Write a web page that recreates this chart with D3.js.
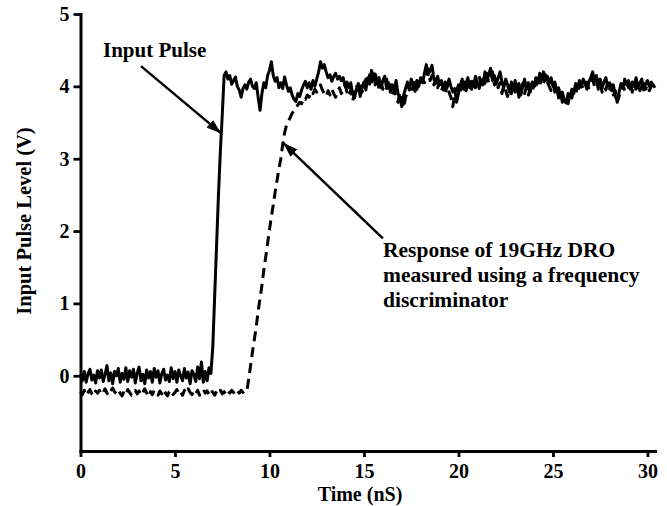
<!DOCTYPE html>
<html>
<head>
  <meta charset="utf-8">
  <title>Input Pulse vs DRO response</title>
  <script src="https://d3js.org/d3.v7.min.js"></script>
  <style>
    body { margin: 0; background: #fff; }
    svg text { font-family: "Liberation Serif", "Times New Roman", serif; font-weight: bold; fill: #000; }
  </style>
</head>
<body>
  <div id="vis"></div>

  <script type="text/javascript">

    // sampled traces, one value every 0.1 nS starting at t = 0
    var timeStep = 0.1;

    var inputPulse = [
      0.02,-0.07,0.06,-0.09,0.03,0.09,-0.06,0.01,-0.1,0.07,
      -0.03,0.08,-0.08,0.02,0.14,-0.07,0.04,-0.11,0.06,0.0,
      0.1,-0.09,0.03,-0.05,0.11,-0.08,0.07,-0.02,0.09,-0.1,
      0.04,0.12,-0.07,0.02,-0.11,0.08,-0.03,0.06,-0.09,0.1,
      -0.02,0.07,-0.1,0.03,0.09,-0.06,0.01,-0.08,0.11,-0.04,
      0.06,-0.09,0.08,0.0,-0.07,0.1,-0.03,0.05,-0.11,0.07,
      0.02,-0.08,0.12,-0.04,0.19,-0.09,0.06,-0.07,0.11,0.03,
      0.4,1.1,1.8,2.5,3.1,3.6,4.15,4.2,4.1,4.15,
      4.03,4.08,4.13,4.0,3.95,3.85,3.97,4.02,3.96,4.06,
      4.1,4.0,3.97,4.05,3.85,3.67,3.9,4.05,3.98,4.15,
      4.22,4.34,4.15,4.07,4.12,3.98,4.05,3.97,4.13,4.02,
      3.93,3.98,3.88,3.82,3.79,3.9,3.86,3.95,4.02,4.07,
      3.98,4.05,3.96,4.08,4.0,4.1,4.2,4.34,4.25,4.3,
      4.2,4.12,4.16,4.07,4.14,4.18,4.1,4.14,4.08,4.12,
      4.0,4.06,3.98,4.05,3.9,3.84,3.96,4.04,3.86,3.98,
      4.06,3.95,4.12,4.03,4.22,4.1,4.17,4.05,4.12,3.98,
      4.08,4.14,3.97,4.05,3.92,4.02,3.96,4.08,3.9,3.84,
      3.72,3.88,3.97,4.06,3.95,4.1,4.02,3.93,4.08,4.0,
      4.12,4.05,4.18,4.3,4.16,4.22,4.29,4.1,4.04,4.14,
      4.02,4.08,3.95,4.06,3.98,4.1,4.0,3.92,3.97,3.78,
      3.9,4.02,4.1,3.96,4.05,4.12,3.98,4.07,4.0,4.14,
      4.05,3.97,4.09,4.02,4.2,4.1,4.16,4.25,4.08,4.15,
      4.03,4.12,4.2,4.06,3.98,4.1,4.02,3.92,4.06,3.96,
      4.08,3.94,4.04,3.88,4.0,4.1,3.96,4.05,3.92,4.06,
      4.0,4.12,4.05,4.18,4.1,4.2,4.08,4.14,4.04,4.12,
      4.0,4.06,3.94,3.98,3.88,3.92,3.8,3.77,3.9,3.85,
      3.96,3.9,4.04,3.97,4.08,4.0,4.1,4.04,3.96,4.06,
      4.12,4.2,4.08,4.15,4.02,4.1,3.98,4.06,4.12,4.0,
      4.05,3.94,4.02,3.86,3.8,3.92,4.04,3.97,4.1,4.02,
      4.08,3.96,4.06,4.0,4.12,3.98,4.05,4.1,3.95,4.03,
      4.08,4.0,4.06,4.02,3.98
    ];

    var droResponse = [
      -0.22,-0.26,-0.2,-0.27,-0.23,-0.19,-0.25,-0.28,-0.21,-0.24,
      -0.2,-0.26,-0.23,-0.18,-0.24,-0.27,-0.21,-0.17,-0.22,-0.25,
      -0.2,-0.24,-0.28,-0.22,-0.26,-0.19,-0.23,-0.27,-0.24,-0.2,
      -0.25,-0.21,-0.27,-0.23,-0.18,-0.24,-0.29,-0.22,-0.26,-0.2,
      -0.23,-0.27,-0.21,-0.25,-0.19,-0.24,-0.28,-0.22,-0.2,-0.26,
      -0.23,-0.19,-0.25,-0.22,-0.27,-0.2,-0.24,-0.18,-0.23,-0.26,
      -0.21,-0.25,-0.2,-0.27,-0.22,-0.19,-0.24,-0.21,-0.26,-0.2,
      -0.23,-0.27,-0.21,-0.24,-0.2,-0.25,-0.22,-0.26,-0.21,-0.24,
      -0.2,-0.23,-0.26,-0.21,-0.24,-0.2,-0.23,-0.21,-0.22,-0.04,
      0.14,0.33,0.5,0.68,0.89,1.07,1.25,1.46,1.64,1.83,
      2.02,2.2,2.36,2.54,2.7,2.86,3.0,3.2,3.36,3.46,
      3.52,3.57,3.63,3.66,3.72,3.74,3.78,3.76,3.84,3.82,
      3.88,3.85,3.93,3.9,3.96,3.92,3.98,4.02,3.95,3.9,
      3.86,3.94,3.88,3.96,3.9,3.85,3.93,3.98,3.9,3.95,
      4.02,3.92,3.86,3.95,3.8,3.9,4.02,3.94,4.05,3.92,
      3.98,4.1,4.0,4.16,4.06,4.2,4.02,4.12,3.96,4.05,
      3.96,4.05,4.1,3.94,4.02,3.88,3.95,3.85,3.78,3.92,
      3.82,3.7,3.85,3.92,4.02,3.9,3.98,4.08,3.96,4.04,
      4.0,4.1,4.05,4.14,4.24,4.08,4.15,4.02,4.1,3.98,
      4.06,3.94,4.02,3.9,4.04,3.92,3.85,3.72,3.88,3.94,
      4.02,3.92,4.0,4.06,3.94,4.02,4.1,3.96,4.04,3.98,
      4.08,4.14,4.0,4.1,4.04,4.18,4.05,4.12,4.2,4.02,
      4.1,3.98,4.05,3.9,4.02,3.94,3.86,3.96,3.9,4.02,
      3.92,4.02,3.85,3.96,4.04,3.9,4.0,3.88,3.98,3.92,
      4.04,3.96,4.1,4.0,4.14,4.04,4.16,4.06,4.0,3.94,
      4.04,3.92,3.98,3.84,3.9,3.78,3.86,3.8,3.76,3.88,
      3.84,3.96,3.9,4.0,3.92,4.04,3.96,4.0,4.06,3.98,
      4.04,4.1,4.0,4.08,3.96,4.04,3.92,4.0,3.95,4.06,
      3.96,4.02,3.88,3.94,3.78,3.86,3.96,4.02,3.94,4.06,
      3.98,4.04,3.92,4.02,3.96,4.06,3.94,4.0,4.08,3.96,
      4.02,3.94,4.0,4.04,3.98
    ];

    var xTicks = [0, 5, 10, 15, 20, 25, 30];
    var yTicks = [0, 1, 2, 3, 4, 5];

    // annotation text and where the arrows point (data units)
    var pulseLabel = 'Input Pulse';
    var pulseArrow = {from: [3.2, 4.28], to: [7.45, 3.35]};
    var droLabel = ['Response of 19GHz DRO', 'measured using a frequency', 'discriminator'];
    var droArrow = {from: [16.0, 1.9], to: [10.72, 3.22]};

    var width = 667, height = 506;

    var x = d3.scaleLinear().domain([0, 30.4]).range([80.5, 655]);
    var y = d3.scaleLinear().domain([-1.04, 5]).range([451, 14]);

    var svg = d3.select('#vis')
                .append('svg')
                  .attr('width', width)
                  .attr('height', height);

    svg.append('defs').append('marker')
         .attr('id', 'head')
         .attr('viewBox', '0 0 12 8')
         .attr('refX', 12)
         .attr('refY', 4)
         .attr('markerUnits', 'userSpaceOnUse')
         .attr('markerWidth', 15)
         .attr('markerHeight', 10)
         .attr('orient', 'auto')
       .append('path')
         .attr('d', 'M0,0 L12,4 L0,8 Z')
         .style('fill', '#000');

    var line = d3.line()
                 .x(function(d, i) { return x(i * timeStep); })
                 .y(function(d) { return y(d); });

    svg.append('path')
         .attr('d', line(droResponse))
         .style('fill', 'none')
         .style('stroke', '#000')
         .style('stroke-width', 3)
         .style('stroke-dasharray', '10,6')
         .style('stroke-linejoin', 'round');

    svg.append('path')
         .attr('d', line(inputPulse))
         .style('fill', 'none')
         .style('stroke', '#000')
         .style('stroke-width', 3)
         .style('stroke-linejoin', 'round');

    // axes
    var xAxis = d3.axisBottom(x).tickValues(xTicks).tickSize(6).tickSizeOuter(0).tickPadding(7)
                  .tickFormat(d3.format('d'));
    var yAxis = d3.axisLeft(y).tickValues(yTicks).tickSize(7).tickSizeOuter(0).tickPadding(4)
                  .tickFormat(d3.format('d'));

    var gx = svg.append('g')
                  .attr('transform', 'translate(0,' + y(-1.04) + ')')
                  .call(xAxis);

    var gy = svg.append('g')
                  .attr('transform', 'translate(' + x(0) + ',0)')
                  .call(yAxis);

    [gx, gy].forEach(function(g) {
      g.select('.domain').style('stroke-width', 3).style('stroke-linecap', 'square');
      g.selectAll('.tick line').style('stroke-width', 2.8);
      g.selectAll('.tick text')
         .style('font-family', '"Liberation Serif", "Times New Roman", serif')
         .style('font-weight', 'bold')
         .style('font-size', '20px');
    });

    svg.append('text')
         .attr('x', 360)
         .attr('y', 501)
         .attr('text-anchor', 'middle')
         .style('font-size', '20px')
         .text('Time (nS)');

    svg.append('text')
         .attr('transform', 'rotate(-90)')
         .attr('x', -221)
         .attr('y', 31)
         .attr('text-anchor', 'middle')
         .style('font-size', '20.5px')
         .text('Input Pulse Level (V)');

    // annotations
    svg.append('text')
         .attr('x', 103)
         .attr('y', 57)
         .style('font-size', '21px')
         .text(pulseLabel);

    svg.append('line')
         .attr('x1', x(pulseArrow.from[0])).attr('y1', y(pulseArrow.from[1]))
         .attr('x2', x(pulseArrow.to[0])).attr('y2', y(pulseArrow.to[1]))
         .style('stroke', '#000')
         .style('stroke-width', 2.5)
         .attr('marker-end', 'url(#head)');

    svg.append('text')
         .attr('x', 383)
         .attr('y', 257)
         .style('font-size', '21.5px')
         .selectAll('tspan')
         .data(droLabel)
         .enter().append('tspan')
           .attr('x', 383)
           .attr('dy', function(d, i) { return i === 0 ? 0 : 25; })
           .text(function(d) { return d; });

    svg.append('line')
         .attr('x1', x(droArrow.from[0])).attr('y1', y(droArrow.from[1]))
         .attr('x2', x(droArrow.to[0])).attr('y2', y(droArrow.to[1]))
         .style('stroke', '#000')
         .style('stroke-width', 2.5)
         .attr('marker-end', 'url(#head)');

  </script>
</body>
</html>
